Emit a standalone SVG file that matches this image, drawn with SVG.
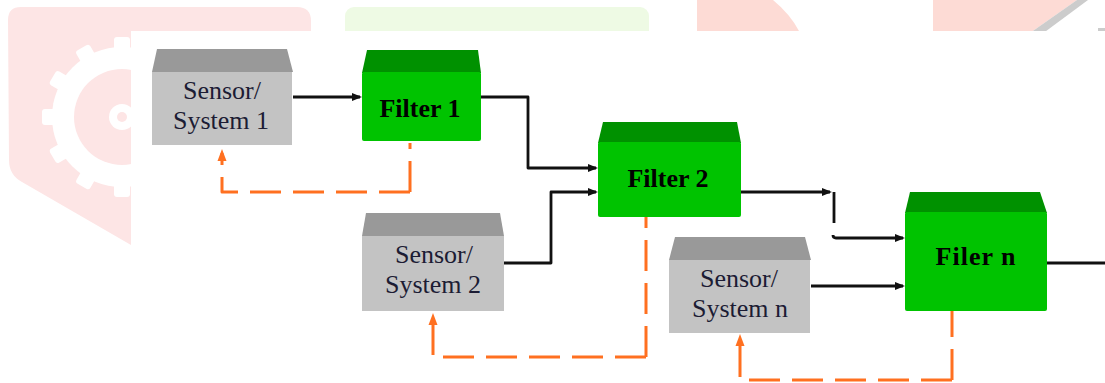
<svg xmlns="http://www.w3.org/2000/svg" width="1105" height="383" viewBox="0 0 1105 383">
<style>
.roofg{fill:#999999}
.bodyg{fill:#c3c3c3}
.rooff{fill:#009100}
.bodyf{fill:#00c300}
.ts{font-family:"Liberation Serif","Times New Roman",serif;font-size:26px;fill:#1c1c34;text-anchor:middle}
.tf{font-family:"Liberation Serif","Times New Roman",serif;font-size:26px;font-weight:bold;fill:#000;text-anchor:middle}
.blk{fill:none;stroke:#111;stroke-width:2.8;stroke-linejoin:round}
.dash{fill:none;stroke:#ff7020;stroke-width:3;stroke-dasharray:31 12;stroke-linejoin:round}
</style>
<defs>
<marker id="ab" viewBox="0 0 10 10" refX="8" refY="5" markerWidth="10" markerHeight="10" markerUnits="userSpaceOnUse" orient="auto">
<path d="M0,1 L10,5 L0,9 z" fill="#111"/>
</marker>
<marker id="ao" viewBox="0 0 12 10" refX="8" refY="5" markerWidth="12" markerHeight="10" markerUnits="userSpaceOnUse" orient="auto">
<path d="M0,0.5 L12,5 L0,9.5 z" fill="#ff7020"/>
</marker>
</defs>
<rect width="1105" height="383" fill="#fff"/>
<g id="watermark">
<path d="M8,20 Q8,7 21,7 L297,7 Q311,7 311,21 L311,60 L131,60 L131,245 L22,182 Q9,175 9,160 Z" fill="#fde5e5"/>
<g fill="#fff" transform="translate(122,117)">
<circle r="70"/>
<g id="teeth">
<rect x="64" y="-8" width="16" height="16" rx="3"/>
<rect x="64" y="-8" width="16" height="16" rx="3" transform="rotate(30)"/>
<rect x="64" y="-8" width="16" height="16" rx="3" transform="rotate(60)"/>
<rect x="64" y="-8" width="16" height="16" rx="3" transform="rotate(90)"/>
<rect x="64" y="-8" width="16" height="16" rx="3" transform="rotate(120)"/>
<rect x="64" y="-8" width="16" height="16" rx="3" transform="rotate(150)"/>
<rect x="64" y="-8" width="16" height="16" rx="3" transform="rotate(180)"/>
<rect x="64" y="-8" width="16" height="16" rx="3" transform="rotate(210)"/>
<rect x="64" y="-8" width="16" height="16" rx="3" transform="rotate(240)"/>
<rect x="64" y="-8" width="16" height="16" rx="3" transform="rotate(270)"/>
<rect x="64" y="-8" width="16" height="16" rx="3" transform="rotate(300)"/>
<rect x="64" y="-8" width="16" height="16" rx="3" transform="rotate(330)"/>
</g>
<circle r="48" fill="#fde5e5"/>
<circle r="13"/>
<circle r="5" fill="#fde5e5"/>
</g>
<rect x="345" y="7" width="304" height="40" rx="9" fill="#eefae4"/>
<path d="M697,0 L773,0 Q790,14 799,31 L799,40 L697,40 Z" fill="#fddbd5"/>
<path d="M933,0 L1077,0 L1020,40 L933,40 Z" fill="#fddbd5"/>
<path d="M1077,0 L1088,0 L1034,40 L1020,40 Z" fill="#cccccc"/>
<rect x="1098" y="28" width="7" height="5" fill="#cccccc"/>
</g>
<rect x="131" y="31" width="974" height="352" fill="#fff"/>
<g id="connectors">
<path class="blk" d="M293,97 H360" marker-end="url(#ab)"/>
<path class="blk" d="M481,97 H528 V168 H596" marker-end="url(#ab)"/>
<path class="blk" d="M504,263 H551 V192 H596" marker-end="url(#ab)"/>
<path class="blk" d="M741,192 H830" marker-end="url(#ab)"/>
<path class="blk" d="M834,192 V223"/>
<path class="blk" d="M833,235 Q833,238 836,238 H903" marker-end="url(#ab)"/>
<path class="blk" d="M811,286 H903" marker-end="url(#ab)"/>
<path class="blk" d="M1047,263 H1105"/>
<path class="dash" d="M410,192 V143"/>
<path class="dash" d="M410,192 H222 V153" marker-end="url(#ao)"/>
<path class="dash" d="M646,357 V217"/>
<path class="dash" d="M646,357 H433 V317" marker-end="url(#ao)"/>
<path class="dash" d="M952,380 V311"/>
<path class="dash" d="M952,380 H740 V338" marker-end="url(#ao)"/>
</g>
<g id="sensor1">
<polygon class="roofg" points="157,49 287,49 293,72 152,72"/>
<rect class="bodyg" x="152" y="72" width="140" height="73"/>
<text class="ts" x="222" y="99">Sensor/</text>
<text class="ts" x="221" y="129">System 1</text>
</g>
<g id="filter1">
<polygon class="rooff" points="367,50 478,50 481,73 362,73"/>
<rect class="bodyf" x="362" y="72" width="119" height="69" rx="2"/>
<text class="tf" x="420" y="117">Filter 1</text>
</g>
<g id="filter2">
<polygon class="rooff" points="603,122 737,122 741,143 598,143"/>
<rect class="bodyf" x="598" y="142" width="143" height="75" rx="2"/>
<text class="tf" x="668" y="187">Filter 2</text>
</g>
<g id="sensor2">
<polygon class="roofg" points="366,213 500,213 504,236 362,236"/>
<rect class="bodyg" x="362" y="236" width="142" height="75"/>
<text class="ts" x="434" y="263">Sensor/</text>
<text class="ts" x="433" y="293">System 2</text>
</g>
<g id="sensorn">
<polygon class="roofg" points="675,237 805,237 811,260 669,260"/>
<rect class="bodyg" x="669" y="260" width="141" height="73"/>
<text class="ts" x="739" y="287">Sensor/</text>
<text class="ts" x="740" y="317">System n</text>
</g>
<g id="filern">
<polygon class="rooff" points="910,192 1040,192 1047,213 905,213"/>
<rect class="bodyf" x="905" y="212" width="142" height="99" rx="2"/>
<text class="tf" x="976" y="265" letter-spacing="1">Filer n</text>
</g>
</svg>
